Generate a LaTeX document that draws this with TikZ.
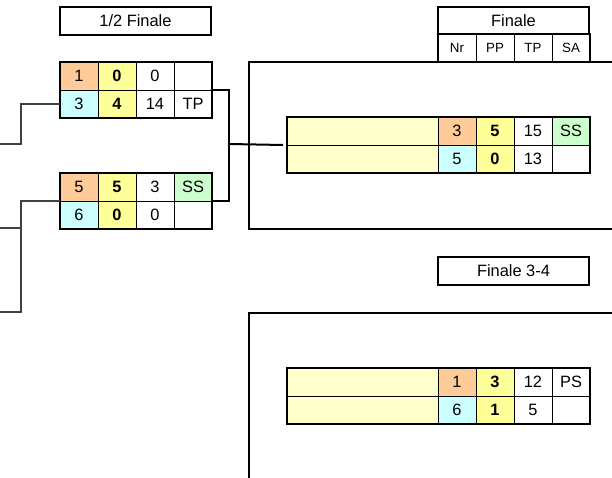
\documentclass[tikz,border=0pt]{standalone}
\usepackage{fontspec}
\setmainfont{Liberation Sans}
\usetikzlibrary{positioning,calc}
\definecolor{nrorange}{HTML}{FFCC99}
\definecolor{nrcyan}{HTML}{CCFFFF}
\definecolor{ppgelb}{HTML}{FFFF99}
\definecolor{sagruen}{HTML}{CCFFCC}
\definecolor{namegelb}{HTML}{FFFFCC}
\begin{document}
\begin{tikzpicture}
  [x=0.75pt, y=-0.75pt,
  zelle/.style={rectangle, draw=black, line width=0.4pt, minimum width=28.5pt, minimum height=21pt, inner sep=0pt, outer sep=0pt, font=\fontsize{12.3}{14}\selectfont},
  nrA/.style={zelle, fill=nrorange},
  nrB/.style={zelle, fill=nrcyan},
  pp/.style={zelle, fill=ppgelb, font=\fontsize{12.3}{14}\selectfont\bfseries},
  sa/.style={zelle, fill=sagruen},
  namenfeld/.style={zelle, fill=namegelb, minimum width=113.25pt},
  kopf/.style={zelle, font=\fontsize{10}{12}\selectfont},
  titel/.style={rectangle, draw=black, line width=1pt, minimum width=113.25pt, minimum height=21pt, inner sep=0pt, outer sep=0pt, font=\fontsize{12.3}{14}\selectfont},
  rahmen/.style={draw=black, line width=1.1pt},
  verbinder/.style={draw=black!75, line width=0.8pt},
  klammer/.style={draw=black, line width=1.1pt}]
  \useasboundingbox (0,0) rectangle (612,478);
  % 1/2 Finale
  \node (halbtitel) [titel, anchor=north west] at (60,7) {1/2 Finale};
  \node (ha1) [nrA, anchor=north west] at (60,62) {1};
  \node (ha2) [pp, right=0pt of ha1] {0};
  \node (ha3) [zelle, right=0pt of ha2] {0};
  \node (ha4) [zelle, right=0pt of ha3] {};
  \node (hb1) [nrB, below=0pt of ha1] {3};
  \node (hb2) [pp, right=0pt of hb1] {4};
  \node (hb3) [zelle, right=0pt of hb2] {14};
  \node (hb4) [zelle, right=0pt of hb3] {TP};
  \draw[rahmen] (ha1.north west) rectangle (hb4.south east);
  \node (hc1) [nrA, anchor=north west] at (60,173) {5};
  \node (hc2) [pp, right=0pt of hc1] {5};
  \node (hc3) [zelle, right=0pt of hc2] {3};
  \node (hc4) [sa, right=0pt of hc3] {SS};
  \node (hd1) [nrB, below=0pt of hc1] {6};
  \node (hd2) [pp, right=0pt of hd1] {0};
  \node (hd3) [zelle, right=0pt of hd2] {0};
  \node (hd4) [zelle, right=0pt of hd3] {};
  \draw[rahmen] (hc1.north west) rectangle (hd4.south east);
  % Finale
  \node (finaltitel) [titel, minimum height=20.25pt, anchor=north west] at (438,7) {Finale};
  \node (kNr) [kopf, anchor=north west] at (438,34) {Nr};
  \node (kPP) [kopf, right=0pt of kNr] {PP};
  \node (kTP) [kopf, right=0pt of kPP] {TP};
  \node (kSA) [kopf, right=0pt of kTP] {SA};
  \draw[line width=1pt] (kNr.north west) rectangle (kSA.south east);
  \draw[rahmen] (612,62) -| (249,229) -- (612,229);
  \node (fname1) [namenfeld, anchor=north west] at (287,117) {};
  \node (fa1) [nrA, right=0pt of fname1] {3};
  \node (fa2) [pp, right=0pt of fa1] {5};
  \node (fa3) [zelle, right=0pt of fa2] {15};
  \node (fa4) [sa, right=0pt of fa3] {SS};
  \node (fname2) [namenfeld, below=0pt of fname1] {};
  \node (fb1) [nrB, right=0pt of fname2] {5};
  \node (fb2) [pp, right=0pt of fb1] {0};
  \node (fb3) [zelle, right=0pt of fb2] {13};
  \node (fb4) [zelle, right=0pt of fb3] {};
  \draw[rahmen] (fname1.north west) rectangle (fb4.south east);
  % Finale 3-4
  \node (drittitel) [titel, anchor=north west] at (438,257) {Finale 3-4};
  \draw[rahmen] (612,313) -| (249,478);
  \node (dname1) [namenfeld, anchor=north west] at (287,368) {};
  \node (da1) [nrA, right=0pt of dname1] {1};
  \node (da2) [pp, right=0pt of da1] {3};
  \node (da3) [zelle, right=0pt of da2] {12};
  \node (da4) [zelle, right=0pt of da3] {PS};
  \node (dname2) [namenfeld, below=0pt of dname1] {};
  \node (db1) [nrB, right=0pt of dname2] {6};
  \node (db2) [pp, right=0pt of db1] {1};
  \node (db3) [zelle, right=0pt of db2] {5};
  \node (db4) [zelle, right=0pt of db3] {};
  \draw[rahmen] (dname1.north west) rectangle (db4.south east);
  % Verbinder
  \coordinate (l1) at (0,144);
  \coordinate (l2) at (0,228);
  \coordinate (l3) at (0,312);
  \coordinate (k1) at (21,144);
  \coordinate (k2) at (21,228);
  \coordinate (k3) at (21,312);
  \coordinate (k4) at (229,144);
  \draw[verbinder] (l1) -- (k1) |- (hb1.west);
  \draw[verbinder] (hd1.north west) -| (k3) -- (l3);
  \draw[verbinder] (l2) -- (k2);
  \draw[klammer] (ha4.south east) -| (k4) |- (hc4.south east);
  \draw[klammer, line width=1.5pt] (k4) -- ($(fname2.north west)+(-4,0)$);
\end{tikzpicture}
\end{document}
